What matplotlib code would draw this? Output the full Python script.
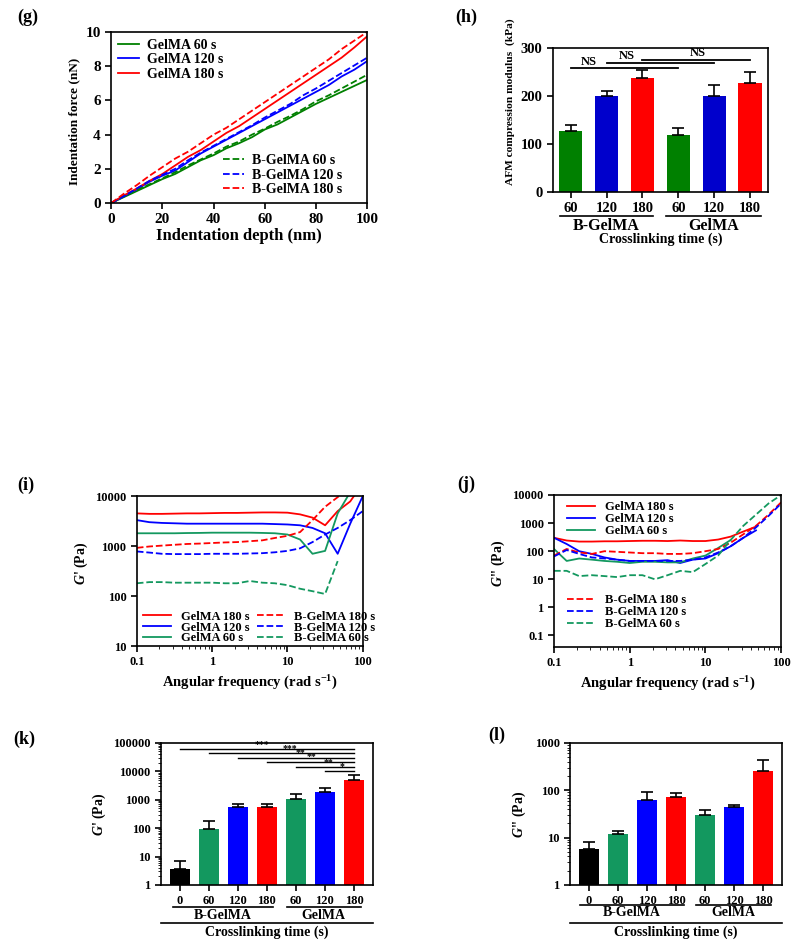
import numpy as np
import matplotlib
matplotlib.use("Agg")
import matplotlib.pyplot as plt
from matplotlib.ticker import LogLocator, NullFormatter, FixedLocator

plt.rcParams['font.family'] = ['Liberation Serif', 'DejaVu Serif']
plt.rcParams['font.weight'] = 'bold'
plt.rcParams['axes.labelweight'] = 'bold'
plt.rcParams['mathtext.fontset'] = 'custom'
plt.rcParams['mathtext.rm'] = 'Liberation Serif:bold'
plt.rcParams['mathtext.it'] = 'Liberation Serif:italic:bold'
plt.rcParams['mathtext.bf'] = 'Liberation Serif:bold'
plt.rcParams['axes.linewidth'] = 1.2
plt.rcParams['xtick.major.width'] = 1.2
plt.rcParams['ytick.major.width'] = 1.2

GREEN = '#008000'
TEAL = '#13985f'
BLUE = '#0000ff'
RED = '#ff0000'

# ---- (g) indentation force vs depth
depth = [0, 5, 10, 15, 20, 25, 30, 35, 40, 45, 50, 55, 60, 65, 70, 75, 80, 85, 90, 95, 100]
g60 = [0, 0.35, 0.7, 1.05, 1.4, 1.7, 2.1, 2.5, 2.8, 3.2, 3.5, 3.85, 4.3, 4.6, 5.0, 5.4, 5.8, 6.15, 6.5, 6.85, 7.2]
g120 = [0, 0.4, 0.8, 1.25, 1.6, 1.9, 2.4, 2.9, 3.3, 3.7, 4.1, 4.5, 4.9, 5.3, 5.7, 6.1, 6.5, 6.9, 7.4, 7.8, 8.3]
g180 = [0, 0.45, 0.85, 1.3, 1.7, 2.2, 2.7, 3.1, 3.6, 4.1, 4.5, 5.0, 5.5, 6.0, 6.5, 7.0, 7.5, 8.0, 8.5, 9.1, 9.75]
bg60 = [0, 0.4, 0.75, 1.1, 1.45, 1.8, 2.2, 2.55, 2.9, 3.3, 3.6, 4.0, 4.35, 4.75, 5.1, 5.5, 5.95, 6.3, 6.7, 7.1, 7.5]
bg120 = [0, 0.4, 0.85, 1.3, 1.65, 2.0, 2.5, 2.95, 3.35, 3.75, 4.15, 4.55, 5.0, 5.4, 5.8, 6.3, 6.7, 7.15, 7.6, 8.05, 8.5]
bg180 = [0, 0.55, 1.05, 1.6, 2.1, 2.6, 3.0, 3.5, 4.0, 4.4, 4.9, 5.4, 5.9, 6.4, 6.9, 7.4, 7.9, 8.4, 9.0, 9.5, 10.0]

# ---- (h) AFM compression modulus
h_ticks = ['60', '120', '180', '60', '120', '180']
h_vals = [128, 200, 238, 118, 201, 228]
h_err = [12, 11, 17, 16, 21, 22]
h_cols = [GREEN, '#0000cc', RED, GREEN, '#0000cc', RED]

# ---- (i) G' frequency sweep
freq = [0.1, 0.147, 0.215, 0.316, 0.464, 0.681, 1, 1.47, 2.15, 3.16, 4.64, 6.81, 10, 14.7, 21.5, 31.6, 46.4, 68.1, 100]
gp_g180 = [4500, 4400, 4400, 4450, 4500, 4500, 4550, 4600, 4600, 4650, 4700, 4700, 4650, 4300, 3700, 2600, 5000, 7800, 18000]
gp_g120 = [3300, 3000, 2900, 2850, 2800, 2800, 2800, 2800, 2800, 2800, 2800, 2750, 2700, 2600, 2300, 1800, 700, 2800, 10000]
gp_g60 = [1800, 1800, 1800, 1800, 1820, 1830, 1850, 1850, 1850, 1850, 1830, 1800, 1700, 1350, 700, 800, 4500, 12000, 20000]
gp_b180 = [920, 980, 1020, 1060, 1100, 1120, 1150, 1180, 1200, 1250, 1300, 1450, 1600, 1900, 3300, 6100, 9500, 15000, 20000]
gp_b120 = [780, 740, 700, 690, 690, 690, 700, 700, 700, 710, 720, 750, 800, 900, 1200, 1700, 2300, 3300, 5000]
gp_b60 = [180, 190, 190, 185, 185, 185, 185, 180, 180, 200, 185, 180, 165, 140, 125, 110, 500]

# ---- (j) G'' frequency sweep
gpp_g180 = [300, 240, 220, 220, 225, 225, 230, 235, 235, 230, 240, 230, 230, 260, 330, 500, 750]
gpp_g120 = [300, 180, 100, 80, 60, 50, 45, 45, 45, 48, 38, 50, 55, 85, 150, 300, 550]
gpp_g60 = [120, 45, 55, 50, 45, 42, 38, 42, 42, 40, 40, 55, 70, 130, 250]
gpp_b180 = [70, 120, 90, 80, 100, 95, 90, 85, 85, 80, 80, 85, 100, 120, 200, 400, 800, 2000, 5500]
gpp_b120 = [65, 110, 80, 60, 55, 50, 45, 45, 45, 45, 45, 50, 60, 90, 150, 300, 700, 1800, 5000]
gpp_b60 = [20, 20, 13, 14, 13, 12, 14, 14, 10, 14, 20, 18, 35, 70, 250, 800, 2000, 5000, 10000]

# ---- (k, l) bar charts of G' and G''
kl_ticks = ['0', '60', '120', '180', '60', '120', '180']
kl_cols = ['black', TEAL, BLUE, RED, TEAL, BLUE, RED]
k_vals = [3.6, 92, 536, 536, 1050, 1870, 5080]
k_err = [3.4, 80, 190, 165, 580, 730, 2320]
k_sig_start = [0, 1, 2, 3, 4, 5]
k_sig_y = [61400, 43100, 30300, 21900, 14200, 10000]
k_sig_txt = ['***', '***', '**', '**', '**', '*']
k_sig_x = [2.82, 3.79, 4.17, 4.54, 5.11, 5.6]
l_vals = [5.7, 12, 63, 73, 30, 44, 259]
l_err = [2.2, 2.1, 28, 14, 8.7, 4.6, 170]

fig = plt.figure(figsize=(8, 9.47), dpi=100)


def style(ax, size=9):
    ax.tick_params(direction='out', labelsize=size, length=4)
    for lab in ax.get_xticklabels() + ax.get_yticklabels():
        lab.set_fontweight('bold')


def log_minor(axis):
    axis.set_minor_locator(LogLocator(base=10, subs=np.arange(2, 10), numticks=20))
    axis.set_minor_formatter(NullFormatter())


def group_lines(ax, spans, y_line, y_text, labels, bottom=None, y_title=None,
                gsize=10, tsize=10):
    tr = ax.get_xaxis_transform()
    for (a, b), lab in zip(spans, labels):
        ax.plot([a, b], [y_line, y_line], color='black', lw=1.2, transform=tr, clip_on=False)
        ax.text((a + b) / 2, y_text, lab, transform=tr, ha='center', va='center',
                fontsize=gsize, fontweight='bold')
    if bottom is not None:
        ax.plot([0, 1], [bottom, bottom], color='black', lw=1.2,
                transform=ax.transAxes, clip_on=False)
    ax.text(0.5, y_title, 'Crosslinking time (s)', transform=ax.transAxes,
            ha='center', va='center', fontsize=tsize, fontweight='bold')


# (g)
ax = fig.add_axes([0.139, 0.7856, 0.32, 0.1806])
l1, = ax.plot(depth, g60, color=GREEN, lw=1.3, label='GelMA 60 s')
l2, = ax.plot(depth, g120, color=BLUE, lw=1.3, label='GelMA 120 s')
l3, = ax.plot(depth, g180, color=RED, lw=1.3, label='GelMA 180 s')
d1, = ax.plot(depth, bg60, color=GREEN, lw=1.3, ls='--', label='B-GelMA 60 s')
d2, = ax.plot(depth, bg120, color=BLUE, lw=1.3, ls='--', label='B-GelMA 120 s')
d3, = ax.plot(depth, bg180, color=RED, lw=1.3, ls='--', label='B-GelMA 180 s')
ax.set_xlim(0, 100)
ax.set_ylim(0, 10)
ax.set_xticks([0, 20, 40, 60, 80, 100])
ax.set_yticks([0, 2, 4, 6, 8, 10])
ax.set_xlabel('Indentation depth (nm)', fontsize=12, labelpad=1)
ax.set_ylabel('Indentation force (nN)', fontsize=9.5)
ax.yaxis.set_label_coords(-0.121, 0.48)
style(ax, 11)
leg1 = ax.legend(handles=[l1, l2, l3], loc='upper left', frameon=False, fontsize=10,
                 handlelength=1.5, handletextpad=0.6, borderaxespad=0.1, labelspacing=0.1)
ax.add_artist(leg1)
ax.legend(handles=[d1, d2, d3], loc='lower right', frameon=False, fontsize=10,
          handlelength=1.5, handletextpad=0.6, borderaxespad=0.1, labelspacing=0.1,
          bbox_to_anchor=(0.93, 0.0))
fig.text(0.022, 0.982, '(g)', fontsize=13, fontweight='bold', va='center')

# (h)
ax = fig.add_axes([0.691, 0.7973, 0.269, 0.152])
x = np.arange(len(h_vals))
ax.bar(x, h_vals, width=0.65, color=h_cols)
ax.errorbar(x, h_vals, yerr=[np.zeros(len(h_err)), h_err], fmt='none', ecolor='black',
            elinewidth=1.2, capsize=4, capthick=1.2)
ax.set_xlim(-0.5, 5.5)
ax.set_ylim(0, 300)
ax.set_yticks([0, 100, 200, 300])
ax.set_xticks(x)
ax.set_xticklabels(h_ticks)
ax.tick_params(axis='x', length=0)
ax.set_ylabel('AFM compression modulus  (kPa)', fontsize=8.2)
ax.yaxis.set_label_coords(-0.177, 0.63)
style(ax, 10.5)
for a, b, yy, tx in [(0, 3, 258, 0.5), (1, 4, 269.5, 1.55), (2, 5, 276, 3.55)]:
    ax.plot([a, b], [yy, yy], color='black', lw=1.3)
    ax.text(tx, yy + 1, 'NS', ha='center', va='bottom', fontsize=9, fontweight='bold')
group_lines(ax, [(-0.3, 2.28), (2.67, 5.3)], -0.167, -0.235, ['B-GelMA', 'GelMA'],
            y_title=-0.33, gsize=11.5, tsize=10)
fig.text(0.569, 0.982, '(h)', fontsize=13, fontweight='bold', va='center')

# (i)
ax = fig.add_axes([0.171, 0.3178, 0.2825, 0.1584])
s1, = ax.plot(freq, gp_g180, color=RED, lw=1.3, label='GelMA 180 s')
s2, = ax.plot(freq, gp_g120, color=BLUE, lw=1.3, label='GelMA 120 s')
s3, = ax.plot(freq, gp_g60, color=TEAL, lw=1.3, label='GelMA 60 s')
t1, = ax.plot(freq, gp_b180, color=RED, lw=1.3, ls='--', label='B-GelMA 180 s')
t2, = ax.plot(freq, gp_b120, color=BLUE, lw=1.3, ls='--', label='B-GelMA 120 s')
t3, = ax.plot(freq[:len(gp_b60)], gp_b60, color=TEAL, lw=1.3, ls='--', label='B-GelMA 60 s')
ax.set_xscale('log')
ax.set_yscale('log')
ax.set_xlim(0.1, 100)
ax.set_ylim(10, 10000)
ax.xaxis.set_major_locator(FixedLocator([0.1, 1, 10, 100]))
ax.set_xticklabels(['0.1', '1', '10', '100'])
ax.yaxis.set_major_locator(FixedLocator([10, 100, 1000, 10000]))
ax.set_yticklabels(['10', '100', '1000', '10000'])
log_minor(ax.xaxis)
ax.yaxis.set_minor_locator(FixedLocator([]))
ax.set_xlabel('Angular frequency (rad s$^{-1}$)', fontsize=10.5, labelpad=4)
ax.set_ylabel("$G$' (Pa)", fontsize=10)
ax.yaxis.set_label_coords(-0.208, 0.55)
style(ax, 9)
ax.legend(handles=[s1, s2, s3, t1, t2, t3], ncol=2, loc='lower left', frameon=False,
          fontsize=9, handlelength=2.2, columnspacing=0.6, borderaxespad=0.1,
          labelspacing=-0.1, bbox_to_anchor=(0.0, -0.03))
fig.text(0.022, 0.487, '(i)', fontsize=13, fontweight='bold', va='center')

# (j)
ax = fig.add_axes([0.6925, 0.3168, 0.284, 0.1605])
s1, = ax.plot(freq[:len(gpp_g180)], gpp_g180, color=RED, lw=1.3, label='GelMA 180 s')
s2, = ax.plot(freq[:len(gpp_g120)], gpp_g120, color=BLUE, lw=1.3, label='GelMA 120 s')
s3, = ax.plot(freq[:len(gpp_g60)], gpp_g60, color=TEAL, lw=1.3, label='GelMA 60 s')
t1, = ax.plot(freq, gpp_b180, color=RED, lw=1.3, ls='--', label='B-GelMA 180 s')
t2, = ax.plot(freq, gpp_b120, color=BLUE, lw=1.3, ls='--', label='B-GelMA 120 s')
t3, = ax.plot(freq, gpp_b60, color=TEAL, lw=1.3, ls='--', label='B-GelMA 60 s')
ax.set_xscale('log')
ax.set_yscale('log')
ax.set_xlim(0.1, 100)
ax.set_ylim(0.039, 10000)
ax.xaxis.set_major_locator(FixedLocator([0.1, 1, 10, 100]))
ax.set_xticklabels(['0.1', '1', '10', '100'])
ax.yaxis.set_major_locator(FixedLocator([0.1, 1, 10, 100, 1000, 10000]))
ax.set_yticklabels(['0.1', '1', '10', '100', '1000', '10000'])
log_minor(ax.xaxis)
ax.yaxis.set_minor_locator(FixedLocator([]))
ax.set_xlabel('Angular frequency (rad s$^{-1}$)', fontsize=10.5, labelpad=4)
ax.set_ylabel("$G$'' (Pa)", fontsize=10)
ax.yaxis.set_label_coords(-0.207, 0.55)
style(ax, 9)
leg1 = ax.legend(handles=[s1, s2, s3], loc='upper left', frameon=False, fontsize=9,
                 handlelength=2.2, borderaxespad=0.1, labelspacing=0.0,
                 bbox_to_anchor=(0.03, 1.0))
ax.add_artist(leg1)
ax.legend(handles=[t1, t2, t3], loc='upper left', frameon=False, fontsize=9,
          handlelength=2.2, borderaxespad=0.1, labelspacing=0.0,
          bbox_to_anchor=(0.03, 0.39))
fig.text(0.571, 0.489, '(j)', fontsize=13, fontweight='bold', va='center')

# (k)
ax = fig.add_axes([0.201, 0.0655, 0.265, 0.15])
x = np.arange(len(k_vals))
ax.bar(x, k_vals, width=0.7, color=kl_cols)
ax.errorbar(x, k_vals, yerr=[np.zeros(len(k_err)), k_err], fmt='none', ecolor='black',
            elinewidth=1.2, capsize=4, capthick=1.2)
ax.set_yscale('log')
ax.set_xlim(-0.65, 6.65)
ax.set_ylim(1, 100000)
ax.yaxis.set_major_locator(FixedLocator([1, 10, 100, 1000, 10000, 100000]))
ax.set_yticklabels(['1', '10', '100', '1000', '10000', '100000'])
log_minor(ax.yaxis)
ax.set_xticks(x)
ax.set_xticklabels(kl_ticks)
ax.tick_params(axis='x', length=0)
ax.set_ylabel("$G$' (Pa)", fontsize=10)
ax.yaxis.set_label_coords(-0.25, 0.5)
style(ax, 9)
for a, yy, tx, st in zip(k_sig_start, k_sig_y, k_sig_x, k_sig_txt):
    ax.plot([a, 6], [yy, yy], color='black', lw=1.0)
    ax.text(tx, yy * 1.02, st, ha='center', va='bottom', fontsize=7, fontweight='bold')
group_lines(ax, [(-0.23, 3.2), (3.7, 6.23)], -0.155, -0.215, ['B-GelMA', 'GelMA'],
            bottom=-0.268, y_title=-0.33)
fig.text(0.017, 0.219, '(k)', fontsize=13, fontweight='bold', va='center')

# (l)
ax = fig.add_axes([0.7125, 0.0655, 0.265, 0.15])
ax.bar(x, l_vals, width=0.7, color=kl_cols)
ax.errorbar(x, l_vals, yerr=[np.zeros(len(l_err)), l_err], fmt='none', ecolor='black',
            elinewidth=1.2, capsize=4, capthick=1.2)
ax.set_yscale('log')
ax.set_xlim(-0.65, 6.65)
ax.set_ylim(1, 1000)
ax.yaxis.set_major_locator(FixedLocator([1, 10, 100, 1000]))
ax.set_yticklabels(['1', '10', '100', '1000'])
log_minor(ax.yaxis)
ax.set_xticks(x)
ax.set_xticklabels(kl_ticks)
ax.tick_params(axis='x', length=0)
ax.set_ylabel("$G$'' (Pa)", fontsize=10)
ax.yaxis.set_label_coords(-0.198, 0.5)
style(ax, 9)
group_lines(ax, [(-0.32, 3.29), (3.69, 6.26)], -0.141, -0.197, ['B-GelMA', 'GelMA'],
            bottom=-0.268, y_title=-0.33)
fig.text(0.61, 0.224, '(l)', fontsize=13, fontweight='bold', va='center')

fig.savefig('out.png', dpi=100)
